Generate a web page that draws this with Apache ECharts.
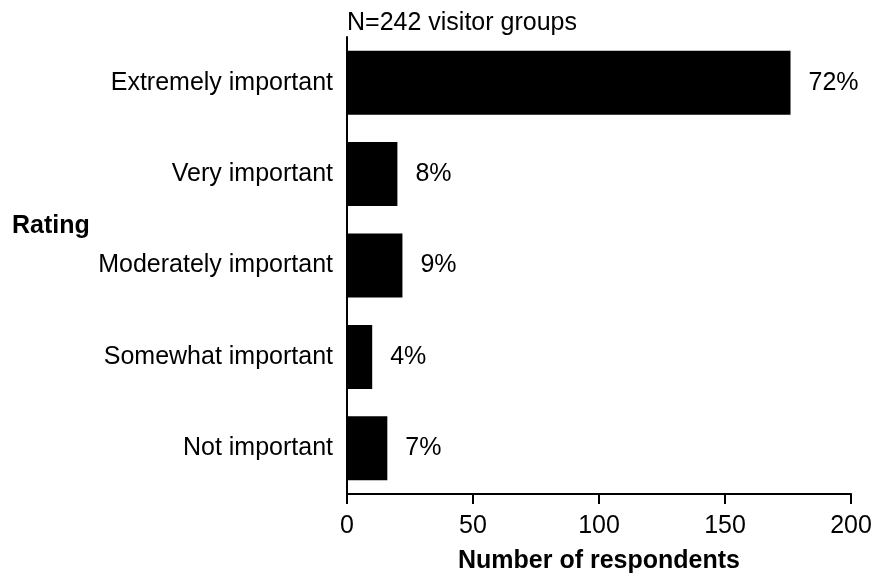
<!DOCTYPE html>
<html>
<head>
<meta charset="utf-8">
<script src="https://cdn.jsdelivr.net/npm/echarts@6/dist/echarts.min.js"></script>
<style>html,body{margin:0;padding:0;background:#fff}#c{width:879px;height:579px}</style>
</head>
<body>
<div id="c"></div>
<script>
var categories = ['Extremely important','Very important','Moderately important','Somewhat important','Not important'];
var counts = [176, 20, 22, 10, 16];
var percents = ['72%','8%','9%','4%','7%'];
var xTicks = [0, 50, 100, 150, 200];

var FONT = '"Liberation Sans", Arial, sans-serif';
var chart = echarts.init(document.getElementById('c'));
chart.setOption({
  animation: false,
  backgroundColor: '#fff',
  title: [
    {text: 'N=242 visitor groups', left: 342, top: 6,
     textStyle: {fontFamily: FONT, fontSize: 25, fontWeight: 'normal', color: '#000'}},
    {text: 'Rating', left: 7, top: 209,
     textStyle: {fontFamily: FONT, fontSize: 25, fontWeight: 'bold', color: '#000'}}
  ],
  grid: {left: 347, right: 28, top: 37, bottom: 82},
  xAxis: {
    type: 'value', min: xTicks[0], max: xTicks[xTicks.length-1], interval: 50,
    name: 'Number of respondents', nameLocation: 'middle', nameGap: 55,
    nameTextStyle: {fontFamily: FONT, fontSize: 25, fontWeight: 'bold', color: '#000'},
    axisLine: {show: true, lineStyle: {color: '#000', width: 2}},
    axisTick: {show: true, length: 10, lineStyle: {color: '#000', width: 2}},
    axisLabel: {fontFamily: FONT, fontSize: 25, color: '#000', margin: 20},
    splitLine: {show: false}
  },
  yAxis: {
    type: 'category', data: categories, inverse: true,
    axisLine: {show: true, lineStyle: {color: '#000', width: 2}},
    axisTick: {show: false},
    axisLabel: {fontFamily: FONT, fontSize: 25, color: '#000', margin: 14}
  },
  series: [{
    type: 'bar', data: counts, barWidth: 64,
    itemStyle: {color: '#000'},
    label: {show: true, position: 'right', distance: 18,
      fontFamily: FONT, fontSize: 25, color: '#000',
      formatter: function(p){ return percents[p.dataIndex]; }}
  }]
});
</script>
</body>
</html>
